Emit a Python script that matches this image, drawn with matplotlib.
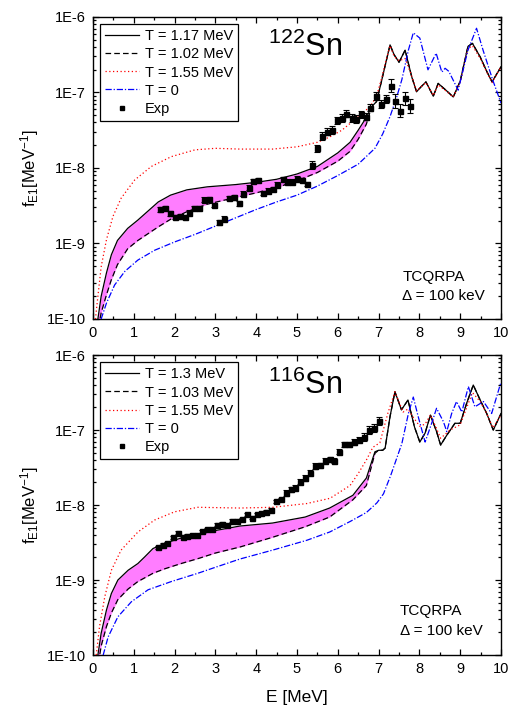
import numpy as np
import matplotlib
matplotlib.use("Agg")
import matplotlib.pyplot as plt
from matplotlib.ticker import FixedLocator, FixedFormatter, LogLocator, NullFormatter, MultipleLocator

plt.rcParams['font.family'] = ['Liberation Sans', 'DejaVu Sans']
plt.rcParams['mathtext.fontset'] = 'custom'
plt.rcParams['mathtext.rm'] = 'Liberation Sans'
plt.rcParams['mathtext.it'] = 'Liberation Sans:italic'

# ---- 122Sn (top panel), values as log10(f) ----
E_band_122 = [0.08, 0.12, 0.2, 0.33, 0.45, 0.6, 0.85, 1.1, 1.35, 1.6, 1.9, 2.3, 2.8, 3.5, 4.0,
              4.5, 5.0, 5.5, 6.0, 6.3, 6.5, 6.7, 6.83, 6.95, 7.08, 7.18, 7.28, 7.38, 7.5, 7.65,
              7.81, 7.93, 8.05, 8.16, 8.34, 8.46, 8.65, 8.83, 9.0, 9.19, 9.3, 9.49, 9.65, 9.78, 10.0]
hot_122 = [-10.2, -10.0, -9.7, -9.39, -9.15, -8.96, -8.8, -8.69, -8.57, -8.45, -8.36, -8.29, -8.25,
           -8.22, -8.19, -8.15, -8.08, -7.98, -7.8, -7.66, -7.5, -7.33, -7.19, -7.12, -6.83, -6.6,
           -6.37, -6.5, -6.6, -6.44, -6.79, -6.99, -6.92, -6.86, -7.05, -6.88, -6.97, -7.06, -6.85,
           -6.39, -6.35, -6.53, -6.72, -6.86, -6.66]
cold_122 = [-10.45, -10.15, -9.92, -9.68, -9.48, -9.28, -9.07, -8.96, -8.87, -8.78, -8.68, -8.58,
            -8.48, -8.39, -8.33, -8.26, -8.17, -8.06, -7.91, -7.78, -7.62, -7.42, -7.19, -7.12,
            -6.83, -6.6, -6.37, -6.5, -6.6, -6.44, -6.79, -6.99, -6.92, -6.86, -7.05, -6.88, -6.97,
            -7.06, -6.85, -6.39, -6.35, -6.53, -6.72, -6.86, -6.66]
E_red_122 = [0.03, 0.06, 0.12, 0.2, 0.33, 0.49, 0.69, 1.02, 1.43, 1.92, 2.5, 3.0, 3.6, 4.4, 5.0,
             5.5, 5.8, 6.1, 6.37, 6.6, 6.8, 6.95, 7.08, 7.18, 7.28, 7.38, 7.5, 7.65, 7.81, 7.93,
             8.05, 8.16, 8.34, 8.46, 8.65, 8.83, 9.0, 9.19, 9.3, 9.49, 9.65, 9.78, 10.0]
red_122 = [-10.4, -10.0, -9.7, -9.31, -8.95, -8.64, -8.4, -8.16, -7.98, -7.85, -7.76, -7.74, -7.75,
           -7.75, -7.72, -7.66, -7.59, -7.5, -7.38, -7.28, -7.18, -7.05, -6.8, -6.58, -6.38, -6.52,
           -6.58, -6.55, -6.78, -6.98, -6.92, -6.87, -7.04, -6.9, -6.98, -7.06, -6.86, -6.42, -6.38,
           -6.55, -6.73, -6.87, -6.66]
E_t0_122 = [0.15, 0.2, 0.33, 0.53, 0.78, 1.1, 1.51, 2.0, 2.5, 3.0, 3.5, 4.0, 4.5, 5.0, 5.5, 6.0,
            6.5, 6.91, 7.1, 7.28, 7.45, 7.57, 7.73, 7.85, 8.01, 8.21, 8.41, 8.55, 8.63, 8.72, 8.95,
            9.19, 9.4, 9.56, 9.8, 10.0]
t0_122 = [-10.3, -10.0, -9.79, -9.55, -9.37, -9.22, -9.09, -8.98, -8.88, -8.77, -8.66, -8.55, -8.45,
          -8.36, -8.24, -8.1, -7.95, -7.74, -7.55, -7.32, -7.05, -6.83, -6.44, -6.21, -6.28, -6.7,
          -6.48, -6.73, -6.68, -6.72, -6.97, -6.44, -6.15, -6.44, -6.84, -7.14]
E_exp_122 = [1.64, 1.76, 1.89, 2.01, 2.13, 2.25, 2.36, 2.48, 2.6, 2.72, 2.84, 2.97, 3.09, 3.21, 3.33,
             3.46, 3.58, 3.68, 3.82, 3.93, 4.05, 4.17, 4.29, 4.41, 4.51, 4.66, 4.75, 4.88, 5.0, 5.12,
             5.25, 5.37, 5.49, 5.61, 5.74, 5.86, 5.98, 6.1, 6.2, 6.34, 6.45, 6.56, 6.68, 6.8, 6.93,
             7.05, 7.17, 7.3, 7.4, 7.52, 7.65, 7.77]
exp_122 = [-8.55, -8.53, -8.6, -8.65, -8.64, -8.65, -8.59, -8.53, -8.53, -8.42, -8.41, -8.49, -8.72,
           -8.67, -8.4, -8.39, -8.47, -8.34, -8.26, -8.17, -8.16, -8.33, -8.3, -8.28, -8.22, -8.15,
           -8.18, -8.18, -8.14, -8.16, -8.21, -7.96, -7.74, -7.58, -7.52, -7.5, -7.37, -7.34, -7.28,
           -7.34, -7.35, -7.29, -7.32, -7.2, -7.05, -7.15, -7.09, -6.91, -7.11, -7.24, -7.08, -7.18]
err_122 = [0.03] * 31 + [0.05] * 16 + [0.09] * 5

# ---- 116Sn (bottom panel) ----
E_band_116 = [0.08, 0.12, 0.2, 0.33, 0.45, 0.61, 0.86, 1.1, 1.27, 1.47, 1.76, 2.16, 2.6, 3.0, 3.6,
              4.4, 5.2, 5.8, 6.37, 6.7, 6.91, 7.0, 7.1, 7.16, 7.28, 7.4, 7.56, 7.72, 7.88, 8.01,
              8.14, 8.27, 8.42, 8.52, 8.67, 8.87, 9.0, 9.16, 9.32, 9.49, 9.65, 9.81, 10.0]
hot_116 = [-10.2, -10.0, -9.71, -9.4, -9.18, -9.0, -8.87, -8.78, -8.69, -8.58, -8.51, -8.44, -8.39,
           -8.34, -8.28, -8.24, -8.16, -8.04, -7.87, -7.64, -7.29, -7.27, -7.27, -7.24, -6.82,
           -6.49, -6.73, -6.6, -6.96, -7.16, -7.04, -6.8, -7.02, -7.2, -7.07, -6.91, -6.91, -6.64,
           -6.4, -6.6, -6.78, -7.0, -6.78]
cold_116 = [-10.45, -10.15, -9.88, -9.62, -9.44, -9.26, -9.12, -9.02, -8.97, -8.91, -8.85, -8.78,
            -8.71, -8.64, -8.56, -8.43, -8.29, -8.16, -7.93, -7.74, -7.31, -7.27, -7.27, -7.24,
            -6.82, -6.49, -6.73, -6.6, -6.96, -7.16, -7.04, -6.8, -7.02, -7.2, -7.07, -6.91,
            -6.91, -6.64, -6.4, -6.6, -6.78, -7.0, -6.78]
E_red_116 = [0.04, 0.08, 0.16, 0.29, 0.45, 0.69, 1.1, 1.51, 2.0, 2.57, 3.6, 4.41, 5.24, 5.81, 6.3,
             6.5, 6.7, 6.86, 7.03, 7.23, 7.4, 7.6, 7.72, 7.85, 8.01, 8.14, 8.27, 8.42, 8.52, 8.75,
             9.0, 9.16, 9.3, 9.49, 9.65, 9.8, 10.0]
red_116 = [-10.4, -10.0, -9.62, -9.22, -8.87, -8.6, -8.36, -8.2, -8.09, -8.03, -8.04, -8.03, -7.98,
           -7.91, -7.74, -7.58, -7.4, -7.23, -7.17, -6.77, -6.49, -6.76, -6.72, -6.83, -6.95, -6.92,
           -6.8, -6.98, -7.11, -7.0, -6.93, -6.7, -6.5, -6.62, -6.78, -6.97, -6.8]
E_t0_116 = [0.15, 0.25, 0.37, 0.61, 0.94, 1.35, 1.92, 2.57, 3.0, 3.6, 4.41, 5.24, 5.8, 6.3, 6.7,
            6.96, 7.12, 7.3, 7.57, 7.73, 7.85, 7.97, 8.14, 8.3, 8.42, 8.59, 8.67, 8.79, 8.91, 9.04,
            9.2, 9.36, 9.57, 9.77, 10.0]
t0_116 = [-10.3, -10.0, -9.76, -9.49, -9.29, -9.13, -9.02, -8.91, -8.83, -8.72, -8.6, -8.47, -8.36,
          -8.22, -8.1, -7.97, -7.85, -7.6, -7.18, -6.78, -6.56, -6.82, -7.16, -6.91, -6.71, -6.89,
          -7.02, -6.78, -6.62, -6.76, -6.42, -6.69, -6.62, -6.78, -6.36]
E_exp_116 = [1.6, 1.71, 1.81, 1.96, 2.08, 2.2, 2.3, 2.43, 2.55, 2.67, 2.79, 2.92, 3.04, 3.16, 3.28,
             3.41, 3.53, 3.65, 3.77, 3.89, 4.01, 4.12, 4.24, 4.36, 4.48, 4.61, 4.73, 4.85, 4.95,
             5.07, 5.2, 5.32, 5.44, 5.56, 5.69, 5.81, 5.91, 6.03, 6.15, 6.27, 6.4, 6.52, 6.64,
             6.76, 6.89, 7.01]
exp_116 = [-8.56, -8.53, -8.51, -8.43, -8.37, -8.42, -8.41, -8.4, -8.4, -8.35, -8.32, -8.32, -8.26,
           -8.25, -8.27, -8.21, -8.21, -8.19, -8.12, -8.17, -8.12, -8.11, -8.09, -8.06, -7.95,
           -7.92, -7.84, -7.79, -7.77, -7.69, -7.64, -7.57, -7.48, -7.47, -7.41, -7.39, -7.41,
           -7.29, -7.19, -7.19, -7.16, -7.13, -7.09, -7.0, -6.97, -6.88]
err_116 = [0.02] * 26 + [0.035] * 16 + [0.05] * 4

panels = [
    dict(E_band=E_band_122, hot=hot_122, cold=cold_122, E_red=E_red_122, red=red_122,
         E_t0=E_t0_122, t0=t0_122, E_exp=E_exp_122, exp=exp_122, err=err_122,
         band_end=6.75, labels=['T = 1.17 MeV', 'T = 1.02 MeV', 'T = 1.55 MeV', 'T = 0', 'Exp'],
         nucleus=r'$\mathregular{^{122}Sn}$', rect=[0.1827, 0.5482, 0.8016, 0.4278],
         txt_x=0.758, txt_y=(0.139, 0.076)),
    dict(E_band=E_band_116, hot=hot_116, cold=cold_116, E_red=E_red_116, red=red_116,
         E_t0=E_t0_116, t0=t0_116, E_exp=E_exp_116, exp=exp_116, err=err_116,
         band_end=6.95, labels=['T = 1.3 MeV', 'T = 1.03 MeV', 'T = 1.55 MeV', 'T = 0', 'Exp'],
         nucleus=r'$\mathregular{^{116}Sn}$', rect=[0.1827, 0.0722, 0.8016, 0.4249],
         txt_x=0.752, txt_y=(0.147, 0.08)),
]

fig = plt.figure(figsize=(5.09, 7.06), dpi=100)

for i, p in enumerate(panels):
    ax = fig.add_axes(p['rect'])
    Eb = np.array(p['E_band'])
    hot = 10 ** np.array(p['hot'])
    cold = 10 ** np.array(p['cold'])
    ax.fill_between(Eb, cold, hot, where=Eb <= p['band_end'], color='#ff7dff', lw=0, zorder=1)
    ax.plot(Eb, hot, color='black', lw=0.9, ls='-', label=p['labels'][0], zorder=3)
    ax.plot(Eb, cold, color='black', lw=0.9, ls=(0, (4.5, 2.5)), label=p['labels'][1], zorder=3)
    ax.plot(p['E_red'], 10 ** np.array(p['red']), color='red', lw=0.9, ls=(0, (1, 2)),
            label=p['labels'][2], zorder=3)
    ax.plot(p['E_t0'], 10 ** np.array(p['t0']), color='blue', lw=0.9, ls=(0, (5, 1.5, 1, 1.5)),
            label=p['labels'][3], zorder=3)

    ex = np.array(p['exp'])
    er = np.array(p['err'])
    fy = 10 ** ex
    yerr = [fy - 10 ** (ex - er), 10 ** (ex + er) - fy]
    ax.errorbar(p['E_exp'], fy, yerr=yerr, fmt='none', ecolor='black', elinewidth=0.8,
                capsize=2, capthick=0.8, zorder=4)
    ax.plot(p['E_exp'], fy, 's', color='black', ms=3.6, ls='none', label=p['labels'][4], zorder=5)

    ax.set_yscale('log')
    ax.set_xlim(0, 10)
    ax.set_ylim(1e-10, 1e-6)
    ax.xaxis.set_major_locator(MultipleLocator(1))
    ax.xaxis.set_minor_locator(MultipleLocator(0.5))
    ax.yaxis.set_major_locator(FixedLocator([1e-10, 1e-9, 1e-8, 1e-7, 1e-6]))
    ax.yaxis.set_major_formatter(FixedFormatter(['1E-10', '1E-9', '1E-8', '1E-7', '1E-6']))
    ax.yaxis.set_minor_locator(LogLocator(base=10, subs=np.arange(2, 10), numticks=20))
    ax.yaxis.set_minor_formatter(NullFormatter())
    ax.tick_params(which='both', direction='in', top=True, right=True, labelsize=10.5, width=0.9)
    ax.tick_params(which='major', length=4.5, pad=5)
    ax.tick_params(which='minor', length=2.3)
    for s in ax.spines.values():
        s.set_linewidth(1.0)

    ax.set_ylabel(r'$\mathregular{f_{E1}[MeV^{-1}]}$', fontsize=12, labelpad=4)
    if i == 1:
        ax.set_xlabel('E [MeV]', fontsize=12.5, labelpad=10)

    leg = ax.legend(loc='upper left', fontsize=10.5, frameon=True, fancybox=False,
                    edgecolor='black', framealpha=1, borderaxespad=0.5, labelspacing=0.28,
                    handlelength=2.3, handletextpad=0.4, borderpad=0.35, markerscale=0.9)
    leg.get_frame().set_linewidth(0.9)

    ax.text(0.52, 0.90, p['nucleus'], transform=ax.transAxes, fontsize=22,
            ha='center', va='center')
    ax.text(p['txt_x'], p['txt_y'][0], 'TCQRPA', transform=ax.transAxes, fontsize=11,
            ha='left', va='center')
    ax.text(p['txt_x'], p['txt_y'][1], '\u0394 = 100 keV', transform=ax.transAxes, fontsize=11,
            ha='left', va='center')

fig.savefig('out.png', dpi=100)
